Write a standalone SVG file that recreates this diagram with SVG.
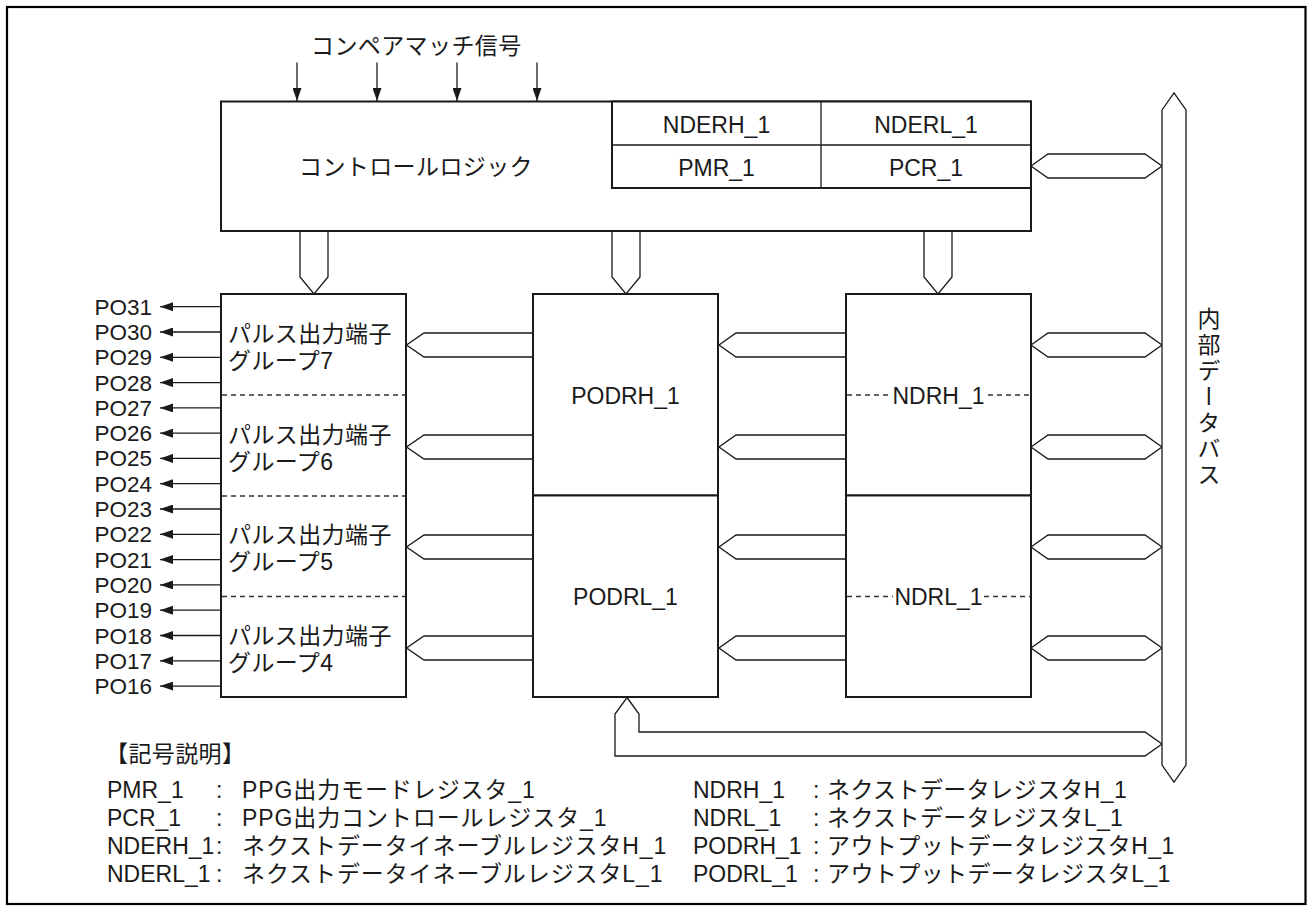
<svg xmlns="http://www.w3.org/2000/svg" width="1308" height="911" viewBox="0 0 1308 911">
<defs>
<style>
text{font-family:"Liberation Sans","Noto Sans CJK JP",sans-serif;font-size:23px;fill:#1a1a1a}
.jp{letter-spacing:0.4px}
.jpw{letter-spacing:0.9px}
.box{fill:#fff;stroke:#1a1a1a;stroke-width:2}
.bus{fill:#fff;stroke:#1a1a1a;stroke-width:1.3;stroke-linejoin:miter}
.ln{fill:none;stroke:#1a1a1a;stroke-width:1.3}
.dash{fill:none;stroke:#333;stroke-width:1.3;stroke-dasharray:5 4}
.mid{text-anchor:middle}
.end{text-anchor:end}
.po{font-size:22.5px}
</style>
<marker id="ah" viewBox="0 0 13 9" refX="13" refY="4.5" markerWidth="13" markerHeight="9" markerUnits="userSpaceOnUse" orient="auto">
<path d="M0,0 L13,4.5 L0,9 Z" fill="#1a1a1a"/>
</marker>
</defs>
<rect x="0" y="0" width="1308" height="911" fill="#fff"/>
<rect x="7" y="7" width="1298.5" height="897" fill="none" stroke="#000" stroke-width="2.2"/>

<g id="connectors">
<line class="ln" x1="297" y1="62.5" x2="297" y2="101" marker-end="url(#ah)"/>
<line class="ln" x1="377" y1="62.5" x2="377" y2="101" marker-end="url(#ah)"/>
<line class="ln" x1="457" y1="62.5" x2="457" y2="101" marker-end="url(#ah)"/>
<line class="ln" x1="537" y1="62.5" x2="537" y2="101" marker-end="url(#ah)"/>
<path class="bus" d="M300,231 V277 L314,294 L328,277 V231"/>
<path class="bus" d="M612,231 V277 L626,294 L640,277 V231"/>
<path class="bus" d="M924,231 V277 L938,294 L952,277 V231"/>
<path class="bus" d="M1031,166 L1048,154 H1145 L1162,166 L1145,178 H1048 Z"/>
<path class="bus" d="M533,333 H424 L406.5,345 L424,357 H533"/>
<path class="bus" d="M533,435 H424 L406.5,447 L424,459 H533"/>
<path class="bus" d="M533,535 H424 L406.5,547 L424,559 H533"/>
<path class="bus" d="M533,636 H424 L406.5,648 L424,660 H533"/>
<path class="bus" d="M846,333 H736 L719,345 L736,357 H846"/>
<path class="bus" d="M846,435 H736 L719,447 L736,459 H846"/>
<path class="bus" d="M846,535 H736 L719,547 L736,559 H846"/>
<path class="bus" d="M846,636 H736 L719,648 L736,660 H846"/>
<path class="bus" d="M1031,345 L1048,333 H1145 L1162,345 L1145,357 H1048 Z"/>
<path class="bus" d="M1031,447 L1048,435 H1145 L1162,447 L1145,459 H1048 Z"/>
<path class="bus" d="M1031,547 L1048,535 H1145 L1162,547 L1145,559 H1048 Z"/>
<path class="bus" d="M1031,648 L1048,636 H1145 L1162,648 L1145,660 H1048 Z"/>
<path class="bus" d="M627,697.5 L639,714 V732 H1145 L1162,744 L1145,756 H615 V714 Z"/>
<line class="ln" x1="221" y1="306.7" x2="160" y2="306.7" marker-end="url(#ah)"/>
<line class="ln" x1="221" y1="332.0" x2="160" y2="332.0" marker-end="url(#ah)"/>
<line class="ln" x1="221" y1="357.3" x2="160" y2="357.3" marker-end="url(#ah)"/>
<line class="ln" x1="221" y1="382.6" x2="160" y2="382.6" marker-end="url(#ah)"/>
<line class="ln" x1="221" y1="407.9" x2="160" y2="407.9" marker-end="url(#ah)"/>
<line class="ln" x1="221" y1="433.2" x2="160" y2="433.2" marker-end="url(#ah)"/>
<line class="ln" x1="221" y1="458.4" x2="160" y2="458.4" marker-end="url(#ah)"/>
<line class="ln" x1="221" y1="483.7" x2="160" y2="483.7" marker-end="url(#ah)"/>
<line class="ln" x1="221" y1="509.0" x2="160" y2="509.0" marker-end="url(#ah)"/>
<line class="ln" x1="221" y1="534.3" x2="160" y2="534.3" marker-end="url(#ah)"/>
<line class="ln" x1="221" y1="559.6" x2="160" y2="559.6" marker-end="url(#ah)"/>
<line class="ln" x1="221" y1="584.9" x2="160" y2="584.9" marker-end="url(#ah)"/>
<line class="ln" x1="221" y1="610.2" x2="160" y2="610.2" marker-end="url(#ah)"/>
<line class="ln" x1="221" y1="635.5" x2="160" y2="635.5" marker-end="url(#ah)"/>
<line class="ln" x1="221" y1="660.8" x2="160" y2="660.8" marker-end="url(#ah)"/>
<line class="ln" x1="221" y1="686.1" x2="160" y2="686.1" marker-end="url(#ah)"/>
</g>

<g id="compare-match-label">
<text class="jp" x="311" y="53.5">コンペアマッチ信号</text>
</g>

<g id="control-logic">
<rect class="box" x="221" y="101.5" width="810" height="129.5"/>
<text class="jp mid" x="416" y="175">コントロールロジック</text>
</g>

<g id="register-table">
<rect class="box" x="612" y="101.5" width="419" height="86.5"/>
<line class="ln" x1="821" y1="101.5" x2="821" y2="188" stroke-width="2"/>
<line class="ln" x1="612" y1="145" x2="1031" y2="145" stroke-width="2"/>
<text class="mid" x="716.5" y="132.5">NDERH_1</text>
<text class="mid" x="926" y="132.5">NDERL_1</text>
<text class="mid" x="716.5" y="175.5">PMR_1</text>
<text class="mid" x="926" y="175.5">PCR_1</text>
</g>

<g id="pulse-groups">
<rect class="box" x="221" y="294" width="185" height="403"/>
<line class="dash" x1="222" y1="395" x2="405" y2="395"/>
<line class="dash" x1="222" y1="496" x2="405" y2="496"/>
<line class="dash" x1="222" y1="596.5" x2="405" y2="596.5"/>
<text class="jp" x="228" y="341.5">パルス出力端子</text>
<text class="jp" x="228" y="368.5">グループ7</text>
<text class="jp" x="228" y="442.5">パルス出力端子</text>
<text class="jp" x="228" y="469.5">グループ6</text>
<text class="jp" x="228" y="543">パルス出力端子</text>
<text class="jp" x="228" y="570">グループ5</text>
<text class="jp" x="228" y="643.5">パルス出力端子</text>
<text class="jp" x="228" y="670.5">グループ4</text>
</g>

<g id="po-labels">
<text class="po end" x="152" y="314.7">PO31</text>
<text class="po end" x="152" y="340.0">PO30</text>
<text class="po end" x="152" y="365.3">PO29</text>
<text class="po end" x="152" y="390.6">PO28</text>
<text class="po end" x="152" y="415.9">PO27</text>
<text class="po end" x="152" y="441.2">PO26</text>
<text class="po end" x="152" y="466.4">PO25</text>
<text class="po end" x="152" y="491.7">PO24</text>
<text class="po end" x="152" y="517.0">PO23</text>
<text class="po end" x="152" y="542.3">PO22</text>
<text class="po end" x="152" y="567.6">PO21</text>
<text class="po end" x="152" y="592.9">PO20</text>
<text class="po end" x="152" y="618.2">PO19</text>
<text class="po end" x="152" y="643.5">PO18</text>
<text class="po end" x="152" y="668.8">PO17</text>
<text class="po end" x="152" y="694.1">PO16</text>
</g>

<g id="podrh">
<rect class="box" x="533" y="294" width="185" height="201.5"/>
<text class="mid" x="625.5" y="403.5">PODRH_1</text>
</g>
<g id="podrl">
<rect class="box" x="533" y="495.5" width="185" height="201.5"/>
<text class="mid" x="625.5" y="605">PODRL_1</text>
</g>

<g id="ndrh">
<rect class="box" x="846" y="294" width="185" height="201.5"/>
<line class="dash" x1="847" y1="395" x2="889" y2="395"/>
<line class="dash" x1="988" y1="395" x2="1030" y2="395"/>
<text class="mid" x="938.5" y="403.5">NDRH_1</text>
</g>
<g id="ndrl">
<rect class="box" x="846" y="495.5" width="185" height="201.5"/>
<line class="dash" x1="847" y1="596.5" x2="893" y2="596.5"/>
<line class="dash" x1="984" y1="596.5" x2="1030" y2="596.5"/>
<text class="mid" x="938.5" y="605">NDRL_1</text>
</g>

<g id="internal-bus">
<path class="bus" d="M1162,110 L1174,93 L1186,110 V765 L1174,782 L1162,765 Z"/>
<text x="1207" y="307" style="writing-mode:vertical-rl;letter-spacing:3px">内部データバス</text>
</g>

<g id="legend">
<text class="jp" x="105" y="762">【記号説明】</text>
<text x="107" y="798">PMR_1<tspan x="216">:</tspan><tspan class="jpw" x="242">PPG出力モードレジスタ_1</tspan></text>
<text x="107" y="826">PCR_1<tspan x="216">:</tspan><tspan class="jpw" x="242">PPG出力コントロールレジスタ_1</tspan></text>
<text x="107" y="854">NDERH_1<tspan x="216">:</tspan><tspan class="jpw" x="242">ネクストデータイネーブルレジスタH_1</tspan></text>
<text x="107" y="882">NDERL_1<tspan x="216">:</tspan><tspan class="jpw" x="242">ネクストデータイネーブルレジスタL_1</tspan></text>
<text x="693" y="798">NDRH_1<tspan x="813">:</tspan><tspan class="jp" x="827">ネクストデータレジスタH_1</tspan></text>
<text x="693" y="826">NDRL_1<tspan x="813">:</tspan><tspan class="jp" x="827">ネクストデータレジスタL_1</tspan></text>
<text x="693" y="854">PODRH_1<tspan x="813">:</tspan><tspan class="jp" x="827">アウトプットデータレジスタH_1</tspan></text>
<text x="693" y="882">PODRL_1<tspan x="813">:</tspan><tspan class="jp" x="827">アウトプットデータレジスタL_1</tspan></text>
</g>
</svg>
